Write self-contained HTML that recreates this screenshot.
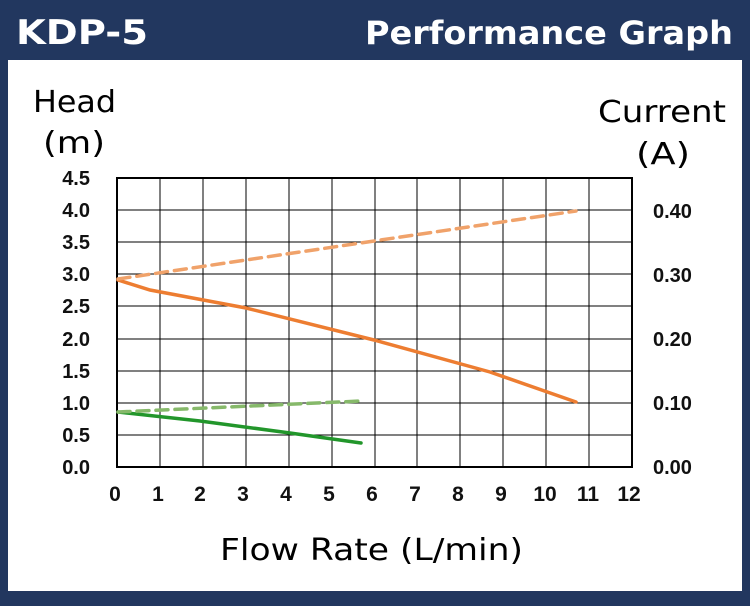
<!DOCTYPE html>
<html><head><style>
body{margin:0;width:750px;height:602px;background:#22375f;overflow:hidden;font-family:"DejaVu Sans","Liberation Sans",sans-serif;}
</style></head><body>
<svg width="750" height="602" xmlns="http://www.w3.org/2000/svg">
<rect x="0" y="0" width="750" height="602" fill="#22375f"/>
<rect x="8" y="60" width="734" height="531" fill="#ffffff"/>
<text x="16" y="44" fill="#fff" font-size="34" font-weight="bold" font-family="DejaVu Sans, sans-serif" textLength="132" lengthAdjust="spacingAndGlyphs">KDP-5</text>
<text x="365" y="44" fill="#fff" font-size="32" font-weight="bold" font-family="DejaVu Sans, sans-serif" textLength="368" lengthAdjust="spacingAndGlyphs">Performance Graph</text>
<g font-family="DejaVu Sans, sans-serif" font-size="30" fill="#000">
<text x="33" y="112" textLength="83" lengthAdjust="spacingAndGlyphs">Head</text>
<text x="43" y="153" textLength="62" lengthAdjust="spacingAndGlyphs">(m)</text>
<text x="598" y="122" textLength="128" lengthAdjust="spacingAndGlyphs">Current</text>
<text x="636" y="164" textLength="54" lengthAdjust="spacingAndGlyphs">(A)</text>
<text x="220" y="560" textLength="303" lengthAdjust="spacingAndGlyphs">Flow Rate (L/min)</text>
</g>
<g stroke="#000" stroke-width="1">
<line x1="160" y1="178" x2="160" y2="467"/><line x1="203" y1="178" x2="203" y2="467"/><line x1="246" y1="178" x2="246" y2="467"/><line x1="289" y1="178" x2="289" y2="467"/><line x1="332" y1="178" x2="332" y2="467"/><line x1="375" y1="178" x2="375" y2="467"/><line x1="417" y1="178" x2="417" y2="467"/><line x1="460" y1="178" x2="460" y2="467"/><line x1="503" y1="178" x2="503" y2="467"/><line x1="546" y1="178" x2="546" y2="467"/><line x1="589" y1="178" x2="589" y2="467"/>
<line x1="117" y1="210" x2="632" y2="210"/><line x1="117" y1="242" x2="632" y2="242"/><line x1="117" y1="274" x2="632" y2="274"/><line x1="117" y1="306" x2="632" y2="306"/><line x1="117" y1="339" x2="632" y2="339"/><line x1="117" y1="371" x2="632" y2="371"/><line x1="117" y1="403" x2="632" y2="403"/><line x1="117" y1="435" x2="632" y2="435"/>
</g>
<rect x="117" y="178" width="515" height="289" fill="none" stroke="#000" stroke-width="2"/>
<g font-family="Liberation Sans, sans-serif" font-size="20" font-weight="bold" fill="#111" text-anchor="end">
<text x="90" y="185">4.5</text><text x="90" y="217">4.0</text><text x="90" y="249">3.5</text><text x="90" y="281">3.0</text><text x="90" y="313">2.5</text><text x="90" y="346">2.0</text><text x="90" y="378">1.5</text><text x="90" y="410">1.0</text><text x="90" y="442">0.5</text><text x="90" y="474">0.0</text>
</g>
<g font-family="Liberation Sans, sans-serif" font-size="20" font-weight="bold" fill="#111">
<text x="653" y="218">0.40</text><text x="653" y="282">0.30</text><text x="653" y="346">0.20</text><text x="653" y="410">0.10</text><text x="653" y="474">0.00</text>
</g>
<g font-family="Liberation Sans, sans-serif" font-size="21" font-weight="bold" fill="#111" text-anchor="middle">
<text x="115" y="501">0</text><text x="158" y="501">1</text><text x="200" y="501">2</text><text x="243" y="501">3</text><text x="286" y="501">4</text><text x="329" y="501">5</text><text x="372" y="501">6</text><text x="415" y="501">7</text><text x="458" y="501">8</text><text x="501" y="501">9</text><text x="545" y="501">10</text><text x="588" y="501">11</text><text x="629" y="501">12</text>
</g>
<g fill="none" stroke-linecap="round" stroke-width="3.5">
<polyline points="118,280 150,290 246,308 374,340 490,372 576,402" stroke="#ed7d31"/>
<line x1="118" y1="279" x2="576" y2="211" stroke="#f0a26a" stroke-dasharray="12,7"/>
<polyline points="118,412 200,421 290,433 361,443" stroke="#22962b"/>
<line x1="118" y1="412" x2="361" y2="401" stroke="#86b96a" stroke-dasharray="12,7"/>
</g>
</svg>
</body></html>
